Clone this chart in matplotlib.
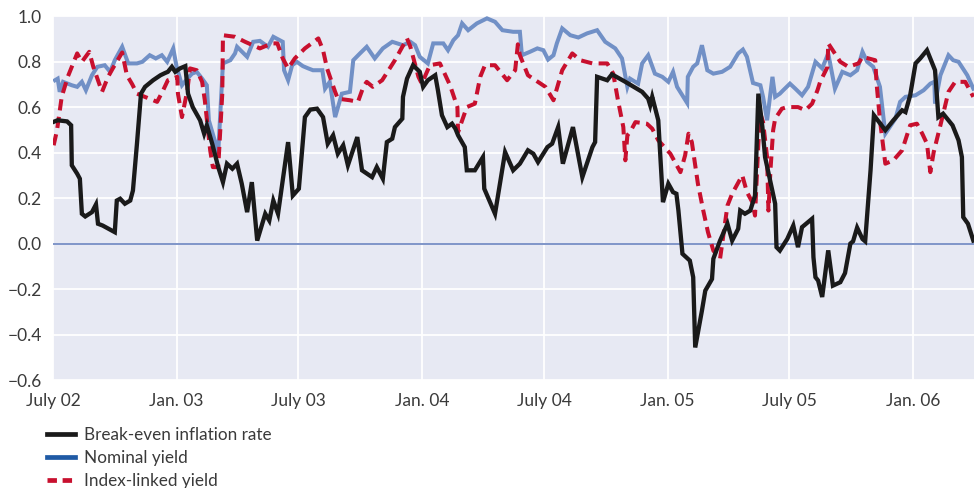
import numpy as np
import pandas as pd
import matplotlib
matplotlib.use("Agg")
import matplotlib.pyplot as plt
from matplotlib.lines import Line2D

plt.rcParams['font.family'] = ['Lato', 'DejaVu Sans']

# x values are days counted from 1 July 2002
start = pd.Timestamp("2002-07-01")

be_days = [0, 7, 21, 27, 28, 36, 40, 43, 48, 58, 64, 67, 74, 92, 95, 100, 107, 115, 119, 125,
           131, 137, 149, 160, 167, 171, 177, 182, 189, 197, 201, 208, 219, 225, 229, 237, 246, 253, 259, 267,
           274, 281, 289, 296, 304, 316, 322, 328, 335, 350, 357, 366, 375, 383, 393, 402, 409, 417, 424, 432,
           439, 453, 460, 475, 482, 491, 497, 505, 509, 520, 521, 527, 536, 546, 551, 558, 569, 573, 579, 587,
           594, 599, 603, 613, 616, 628, 640, 642, 658, 673, 685, 695, 707, 715, 722, 736, 743, 752, 759, 774,
           788, 803, 807, 810, 825, 832, 852, 877, 886, 889, 892, 901, 908, 916, 923, 928, 931, 937, 948, 953,
           956, 966, 971, 981, 983, 993, 1004, 1011, 1020, 1023, 1030, 1038, 1045, 1050, 1056, 1060, 1075, 1077, 1082, 1093,
           1102, 1109, 1115, 1130, 1132, 1135, 1139, 1145, 1154, 1161, 1172, 1179, 1187, 1191, 1197, 1205, 1209, 1217, 1222, 1239,
           1251, 1264, 1269, 1276, 1284, 1291, 1301, 1313, 1318, 1325, 1339, 1348, 1353, 1355, 1362, 1370]
breakeven = [0.534, 0.542, 0.537, 0.52, 0.344, 0.307, 0.285, 0.131, 0.119, 0.138, 0.172, 0.087, 0.079, 0.050, 0.189, 0.197, 0.175, 0.189, 0.233, 0.439,
             0.659, 0.689, 0.718, 0.740, 0.75, 0.755, 0.777, 0.755, 0.77, 0.78, 0.659, 0.60, 0.542, 0.483, 0.52, 0.439, 0.336, 0.27, 0.351, 0.329,
             0.351, 0.263, 0.138, 0.27, 0.013, 0.131, 0.101, 0.189, 0.131, 0.446, 0.211, 0.241, 0.556, 0.589, 0.593, 0.556, 0.439, 0.476, 0.395, 0.432,
             0.344, 0.468, 0.322, 0.292, 0.336, 0.285, 0.446, 0.461, 0.512, 0.549, 0.645, 0.725, 0.784, 0.755, 0.689, 0.718, 0.740, 0.674, 0.564, 0.512,
             0.527, 0.505, 0.476, 0.424, 0.322, 0.322, 0.38, 0.241, 0.131, 0.402, 0.322, 0.351, 0.41, 0.395, 0.358, 0.424, 0.439, 0.512, 0.351, 0.512,
             0.292, 0.424, 0.446, 0.733, 0.718, 0.744, 0.711, 0.667, 0.637, 0.608, 0.645, 0.542, 0.182, 0.263, 0.226, 0.219, 0.145, -0.045, -0.075, -0.148,
             -0.457, -0.295, -0.207, -0.156, -0.067, 0.013, 0.087, 0.013, 0.065, 0.145, 0.131, 0.145, 0.211, 0.659, 0.512, 0.38, 0.175, -0.016, -0.031, 0.02,
             0.079, -0.016, 0.072, 0.109, -0.06, -0.148, -0.163, -0.235, -0.03, -0.185, -0.17, -0.13, 0.0, 0.01, 0.07, 0.02, 0.01, 0.322, 0.564, 0.498,
             0.542, 0.586, 0.578, 0.652, 0.792, 0.814, 0.850, 0.762, 0.556, 0.571, 0.52, 0.454, 0.38, 0.116, 0.087, 0.013]

nom_days = [3, 7, 10, 15, 28, 36, 43, 49, 58, 66, 77, 85, 92, 103, 112, 125, 133, 144, 153, 162,
            170, 179, 184, 192, 200, 207, 214, 222, 229, 232, 246, 253, 264, 271, 274, 289, 298, 308, 320, 328,
            342, 344, 350, 356, 363, 372, 380, 387, 401, 405, 412, 420, 430, 442, 447, 457, 467, 479, 491, 505,
            521, 532, 539, 546, 558, 566, 581, 588, 596, 603, 609, 618, 631, 646, 658, 669, 685, 695, 698, 710,
            721, 730, 737, 745, 750, 758, 770, 782, 795, 810, 822, 837, 847, 855, 859, 871, 877, 886, 896, 907,
            916, 923, 929, 944, 945, 953, 959, 966, 974, 983, 996, 1008, 1020, 1027, 1033, 1042, 1053, 1057, 1063, 1071,
            1075, 1082, 1087, 1097, 1105, 1115, 1124, 1135, 1145, 1154, 1164, 1175, 1187, 1197, 1205, 1212, 1221, 1231, 1239, 1254,
            1261, 1269, 1284, 1296, 1306, 1312, 1313, 1321, 1333, 1340, 1348, 1361, 1370]
nominal = [0.718, 0.725, 0.667, 0.711, 0.696, 0.689, 0.711, 0.674, 0.740, 0.777, 0.784, 0.755, 0.806, 0.865, 0.792, 0.792, 0.799, 0.828, 0.814, 0.828,
           0.799, 0.858, 0.777, 0.696, 0.725, 0.747, 0.755, 0.725, 0.696, 0.542, 0.40, 0.792, 0.806, 0.836, 0.865, 0.821, 0.887, 0.891, 0.865, 0.909,
           0.887, 0.762, 0.718, 0.784, 0.799, 0.78, 0.77, 0.762, 0.762, 0.681, 0.711, 0.556, 0.659, 0.667, 0.806, 0.836, 0.865, 0.814, 0.858, 0.887,
           0.872, 0.887, 0.872, 0.821, 0.792, 0.880, 0.880, 0.850, 0.894, 0.916, 0.968, 0.938, 0.968, 0.99, 0.975, 0.938, 0.931, 0.931, 0.828, 0.843,
           0.858, 0.850, 0.809, 0.828, 0.880, 0.946, 0.916, 0.906, 0.924, 0.938, 0.887, 0.858, 0.814, 0.689, 0.725, 0.703, 0.792, 0.828, 0.747, 0.733,
           0.711, 0.755, 0.689, 0.618, 0.733, 0.777, 0.792, 0.872, 0.762, 0.747, 0.755, 0.777, 0.836, 0.853, 0.821, 0.706, 0.696, 0.645, 0.542, 0.733,
           0.645, 0.659, 0.674, 0.703, 0.681, 0.652, 0.689, 0.799, 0.77, 0.836, 0.681, 0.755, 0.740, 0.762, 0.843, 0.799, 0.777, 0.689, 0.483, 0.549,
           0.623, 0.645, 0.652, 0.674, 0.703, 0.711, 0.615, 0.740, 0.828, 0.806, 0.799, 0.740, 0.681]

il_days = [1, 6, 13, 22, 30, 36, 43, 54, 60, 73, 82, 89, 103, 110, 118, 125, 155, 164, 171, 185,
           186, 192, 200, 204, 214, 222, 226, 234, 238, 246, 252, 253, 271, 286, 308, 326, 334, 342, 350, 360,
           375, 395, 402, 408, 420, 424, 442, 454, 462, 467, 476, 490, 509, 527, 532, 544, 549, 561, 576, 591,
           602, 603, 616, 628, 636, 643, 658, 676, 688, 692, 695, 707, 733, 745, 758, 773, 785, 803, 825, 834,
           841, 849, 852, 855, 859, 867, 884, 892, 901, 919, 934, 941, 946, 951, 960, 968, 975, 983, 993, 1004,
           1011, 1026, 1033, 1041, 1045, 1050, 1053, 1057, 1063, 1065, 1068, 1072, 1075, 1085, 1093, 1109, 1120, 1130, 1138, 1142,
           1153, 1154, 1172, 1184, 1199, 1205, 1224, 1226, 1231, 1236, 1239, 1251, 1264, 1276, 1286, 1294, 1301, 1306, 1311, 1321,
           1333, 1343, 1358, 1370]
index_linked = [0.432, 0.498, 0.645, 0.733, 0.792, 0.836, 0.799, 0.843, 0.777, 0.667, 0.733, 0.77, 0.84, 0.74, 0.70, 0.659, 0.623, 0.674, 0.718, 0.733,
                0.659, 0.556, 0.674, 0.77, 0.762, 0.711, 0.63, 0.41, 0.336, 0.336, 0.659, 0.916, 0.909, 0.887, 0.858, 0.880, 0.880, 0.814, 0.77, 0.814,
                0.858, 0.902, 0.850, 0.77, 0.667, 0.637, 0.63, 0.623, 0.689, 0.711, 0.689, 0.718, 0.806, 0.902, 0.865, 0.733, 0.703, 0.784, 0.792, 0.696,
                0.60, 0.49, 0.60, 0.615, 0.733, 0.784, 0.784, 0.718, 0.762, 0.876, 0.828, 0.740, 0.689, 0.63, 0.762, 0.836, 0.806, 0.792, 0.792, 0.747,
                0.63, 0.512, 0.366, 0.476, 0.49, 0.534, 0.527, 0.505, 0.454, 0.395, 0.314, 0.388, 0.483, 0.446, 0.263, 0.145, 0.05, -0.031, -0.067, 0.167,
                0.219, 0.30, 0.226, 0.182, 0.123, 0.439, 0.571, 0.534, 0.38, 0.145, 0.322, 0.498, 0.549, 0.593, 0.60, 0.60, 0.586, 0.615, 0.674, 0.711,
                0.777, 0.880, 0.799, 0.777, 0.792, 0.821, 0.806, 0.703, 0.542, 0.424, 0.351, 0.366, 0.41, 0.52, 0.527, 0.483, 0.439, 0.314, 0.402, 0.52,
                0.667, 0.711, 0.711, 0.645]

tick_dates = ["2002-07-01", "2003-01-01", "2003-07-01", "2004-01-01", "2004-07-01",
              "2005-01-01", "2005-07-01", "2006-01-01"]
tick_labels = ["July 02", "Jan. 03", "July 03", "Jan. 04", "July 04", "Jan. 05", "July 05", "Jan. 06"]


def to_dates(days):
    return start + pd.to_timedelta(days, unit="D")


fig = plt.figure(figsize=(9.74, 4.88), dpi=100)
ax = fig.add_axes([0.0544, 0.2213, 0.9456, 0.7457])
ax.set_facecolor("#e7e9f3")

black = "#1a1a1a"
blue = "#7190c6"
red = "#c8102e"

ax.axhline(0, color="#7f95c8", lw=1.4, zorder=2)
ax.plot(to_dates(nom_days), nominal, color=blue, lw=2.9, zorder=3, solid_joinstyle="miter")
ax.plot(to_dates(il_days), index_linked, color=red, lw=2.9, dashes=(2.8, 1.6), zorder=4)
ax.plot(to_dates(be_days), breakeven, color=black, lw=3.1, zorder=5, solid_joinstyle="miter")

ax.set_xlim(start, start + pd.Timedelta(days=1371))
ax.set_ylim(-0.6, 1.0)
yt = np.arange(-0.6, 1.01, 0.2)
ax.set_yticks(yt)
ax.set_yticklabels([f"{v:.1f}".replace("-", "\u2212") for v in yt])
ax.set_xticks(pd.to_datetime(tick_dates))
ax.set_xticklabels(tick_labels)
ax.grid(True, color="white", lw=1.3, zorder=1)
ax.set_axisbelow(True)
ax.tick_params(length=0, labelsize=12.5, colors="#3a3a3a", pad=8)
ax.tick_params(axis="x", pad=9)
for s in ax.spines.values():
    s.set_visible(False)

handles = [Line2D([], [], color=black, lw=3.4),
           Line2D([], [], color="#1f5aa5", lw=3.4),
           Line2D([], [], color=red, lw=3.4, dashes=(2.0, 1.2))]
fig.legend(handles, ["Break-even inflation rate", "Nominal yield", "Index-linked yield"],
           loc="upper left", bbox_to_anchor=(0.048, 0.126), frameon=False,
           fontsize=12.3, handlelength=1.65, handletextpad=0.55, labelspacing=0.42,
           borderaxespad=0, borderpad=0, labelcolor="#3a3a3a")

fig.savefig("out.png", dpi=100)
